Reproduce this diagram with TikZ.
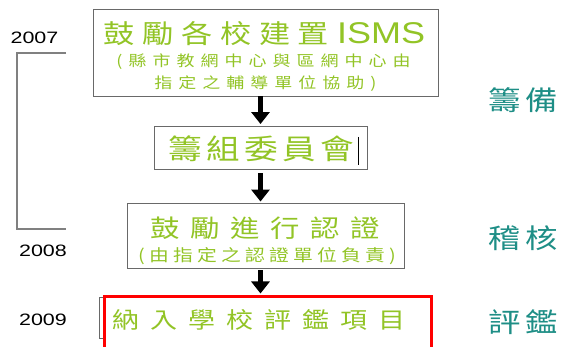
\documentclass[tikz,border=0pt]{standalone}
\usepackage{fontspec}
\setmainfont{Liberation Sans}
\newfontfamily\cjk[FakeStretch=1.2]{Noto Sans CJK TC}
\newfontfamily\latw[FakeStretch=1.2]{Liberation Sans}
\newfontfamily\yearfont[FakeStretch=1.3]{Liberation Sans}
\usetikzlibrary{arrows.meta}
\definecolor{leaf}{RGB}{146,196,38}
\definecolor{tealtxt}{RGB}{30,142,134}
\definecolor{boxgray}{RGB}{105,105,105}
\definecolor{brgray}{RGB}{128,128,128}
\makeatletter
\newcommand\lspread[2]{\def\lsp@sep{#1}\lsp@loop#2\relax\unskip}
\def\lsp@loop#1{\ifx\relax#1\else#1\hskip\lsp@sep\relax\expandafter\lsp@loop\fi}
\makeatother
\tikzset{
  stagebox/.style={draw=boxgray, line width=0.9pt, inner sep=0pt},
  hlbox/.style={draw=red, line width=3pt, fill=white, inner sep=0pt},
  txt/.style={inner sep=0pt, text=leaf},
  side/.style={inner sep=0pt, text=tealtxt, anchor=west, font=\cjk\fontsize{27}{27}\selectfont},
  yr/.style={inner sep=0pt, text=black, font=\yearfont\fontsize{16.5}{16.5}\selectfont},
  arr/.style={line width=4.3pt, -{Triangle[width=18pt,length=12pt]}},
  bracket/.style={draw=brgray, line width=1.3pt},
}
\begin{document}
\begin{tikzpicture}[x=1pt,y=-1pt]
\useasboundingbox (0,0) rectangle (563,347);
\clip (0,0) rectangle (563,347);
% boxes
\node[stagebox, minimum width=345pt, minimum height=87pt] (b1) at (265.5,52.5) {};
\node[stagebox, minimum width=213pt, minimum height=43pt] (b2) at (260.5,147.5) {};
\node[stagebox, minimum width=277pt, minimum height=65pt] (b3) at (265.5,235.5) {};
\node[stagebox, minimum width=331pt, minimum height=40.5pt] (b4) at (265,318) {};
\node[hlbox, minimum width=327.5pt, minimum height=66pt] (hl) at (268,330) {};
% texts in boxes
\node[txt] (t1) at (264.5,33.5) {{\cjk\fontsize{26}{26}\selectfont\lspread{7.6pt}{鼓勵各校建置}}\hspace{8pt}{\latw\fontsize{30}{30}\selectfont ISMS}};
\node[txt, font=\cjk\fontsize{15}{15}\selectfont] (t1a) at (263.5,62) {\lspread{6pt}{(縣市教網中心與區網中心由}};
\node[txt, font=\cjk\fontsize{15}{15}\selectfont] (t1b) at (265.5,84) {\lspread{6pt}{指定之輔導單位協助)}};
\node[txt, font=\cjk\fontsize{28}{28}\selectfont] (t2) at (261,149) {\lspread{4.4pt}{籌組委員會}};
\node[txt, font=\cjk\fontsize{24.5}{24.5}\selectfont] (t3) at (265,228) {\lspread{10.6pt}{鼓勵進行認證}};
\node[txt, font=\cjk\fontsize{16.5}{16.5}\selectfont] (t3a) at (267,256) {\lspread{4.2pt}{(由指定之認證單位負責)}};
\node[txt, font=\cjk\fontsize{22.5}{22.5}\selectfont] (t4) at (259,320) {\lspread{11pt}{納入學校評鑑項目}};
% cursor mark
\draw[line width=0.8pt] (358,137) -- (358,165);
% arrows
\draw[arr, shorten >=1.5pt] (b1.south -| b2.north) -- (b2.north);
\draw[arr, shorten <=4pt, shorten >=1pt] (b2.south) -- (b3.north -| b2.south);
\draw[arr, shorten <=2pt, shorten >=2pt] (b3.south -| b2.south) -- (hl.north -| b2.south);
% side labels
\node[side] (s1) at (488,100) {\lspread{5pt}{籌備}};
\node[side] (s2) at (488,238) {\lspread{5pt}{稽核}};
\node[side] (s3) at (488,322) {\lspread{5pt}{評鑑}};
% years
\node[yr] (y1) at (34.5,38) {2007};
\node[yr] (y2) at (43,251) {2008};
\node[yr] (y3) at (43,320) {2009};
% bracket
\coordinate (brt) at (66,53);
\coordinate (brb) at (66,229);
\draw[bracket] (brt) -- ++(-49,0) -- ++(0,176) -- (brb);
\end{tikzpicture}
\end{document}
